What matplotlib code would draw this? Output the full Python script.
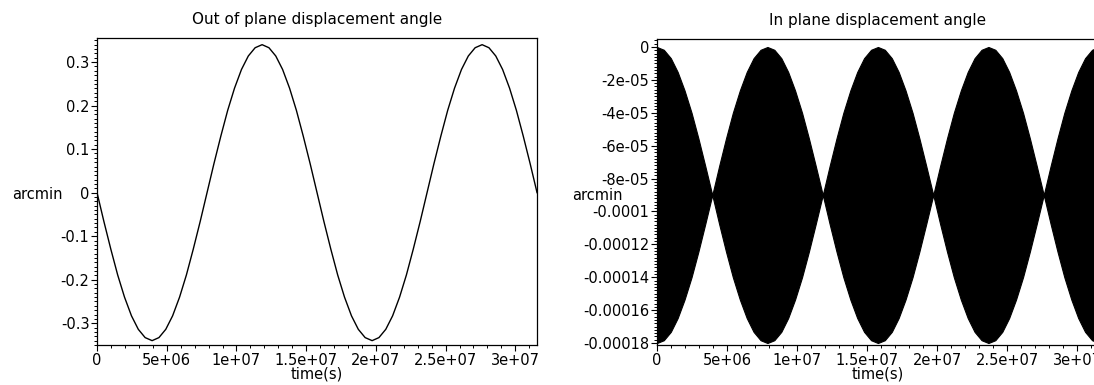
import matplotlib
matplotlib.use('Agg')
import matplotlib.pyplot as plt
from matplotlib.ticker import MultipleLocator, FuncFormatter

# sample times, in units of 1e6 s (one year = 3.156e7 s)
time_1e6s = [0, 0.49, 0.99, 1.48, 1.97, 2.47, 2.96, 3.45, 3.95, 4.44, 4.93, 5.42, 5.92,
             6.41, 6.90, 7.40, 7.89, 8.38, 8.88, 9.37, 9.86, 10.36, 10.85, 11.34, 11.84,
             12.33, 12.82, 13.31, 13.81, 14.30, 14.79, 15.29, 15.78, 16.27, 16.77, 17.26,
             17.75, 18.25, 18.74, 19.23, 19.73, 20.22, 20.71, 21.20, 21.70, 22.19, 22.68,
             23.18, 23.67, 24.16, 24.66, 25.15, 25.64, 26.14, 26.63, 27.12, 27.62, 28.11,
             28.60, 29.09, 29.59, 30.08, 30.57, 31.07, 31.56]

# out of plane angle (arcmin)
out_of_plane = [0, -0.066, -0.130, -0.189, -0.240, -0.283, -0.314, -0.333, -0.340,
                -0.333, -0.314, -0.283, -0.240, -0.189, -0.130, -0.066, 0,
                0.066, 0.130, 0.189, 0.240, 0.283, 0.314, 0.333, 0.340,
                0.333, 0.314, 0.283, 0.240, 0.189, 0.130, 0.066, 0,
                -0.066, -0.130, -0.189, -0.240, -0.283, -0.314, -0.333, -0.340,
                -0.333, -0.314, -0.283, -0.240, -0.189, -0.130, -0.066, 0,
                0.066, 0.130, 0.189, 0.240, 0.283, 0.314, 0.333, 0.340,
                0.333, 0.314, 0.283, 0.240, 0.189, 0.130, 0.066, 0]

# in plane angle: envelope of the fast oscillation, in units of 1e-5 arcmin
in_plane_upper = [0, -0.17, -0.68, -1.52, -2.64, -4.00, -5.56, -7.24, -9.00,
                  -7.24, -5.56, -4.00, -2.64, -1.52, -0.68, -0.17, 0,
                  -0.17, -0.68, -1.52, -2.64, -4.00, -5.56, -7.24, -9.00,
                  -7.24, -5.56, -4.00, -2.64, -1.52, -0.68, -0.17, 0,
                  -0.17, -0.68, -1.52, -2.64, -4.00, -5.56, -7.24, -9.00,
                  -7.24, -5.56, -4.00, -2.64, -1.52, -0.68, -0.17, 0,
                  -0.17, -0.68, -1.52, -2.64, -4.00, -5.56, -7.24, -9.00,
                  -7.24, -5.56, -4.00, -2.64, -1.52, -0.68, -0.17, 0]
in_plane_lower = [-18.00, -17.83, -17.32, -16.48, -15.36, -14.00, -12.44, -10.76, -9.00,
                  -10.76, -12.44, -14.00, -15.36, -16.48, -17.32, -17.83, -18.00,
                  -17.83, -17.32, -16.48, -15.36, -14.00, -12.44, -10.76, -9.00,
                  -10.76, -12.44, -14.00, -15.36, -16.48, -17.32, -17.83, -18.00,
                  -17.83, -17.32, -16.48, -15.36, -14.00, -12.44, -10.76, -9.00,
                  -10.76, -12.44, -14.00, -15.36, -16.48, -17.32, -17.83, -18.00,
                  -17.83, -17.32, -16.48, -15.36, -14.00, -12.44, -10.76, -9.00,
                  -10.76, -12.44, -14.00, -15.36, -16.48, -17.32, -17.83, -18.00]

t = [v * 1e6 for v in time_1e6s]
upper = [v * 1e-5 for v in in_plane_upper]
lower = [v * 1e-5 for v in in_plane_lower]

plt.rcParams['font.family'] = 'DejaVu Sans'
plt.rcParams['font.size'] = 10.5

fig = plt.figure(figsize=(10.94, 3.85), dpi=100)
ax1 = fig.add_axes([0.0887, 0.1039, 0.4022, 0.797])
ax2 = fig.add_axes([0.6005, 0.1039, 0.404, 0.795])

gfmt = FuncFormatter(lambda v, pos: '%g' % v)

ax1.plot(t, out_of_plane, color='black', lw=1.0)
ax1.set_xlim(0, 3.156e7)
ax1.set_ylim(-0.35, 0.355)
ax1.yaxis.set_major_locator(MultipleLocator(0.1))
ax1.yaxis.set_minor_locator(MultipleLocator(0.01))
ax1.set_title('Out of plane displacement angle', fontsize=11, pad=10)

ax2.fill_between(t, lower, upper, color='black', lw=0.8, edgecolor='black')
ax2.set_xlim(0, 3.156e7)
ax2.set_ylim(-1.812e-4, 4.9e-6)
ax2.yaxis.set_major_locator(MultipleLocator(2e-5))
ax2.yaxis.set_minor_locator(MultipleLocator(2e-6))
ax2.set_title('In plane displacement angle', fontsize=11, pad=10)

for ax in (ax1, ax2):
    ax.xaxis.set_major_locator(MultipleLocator(5e6))
    ax.xaxis.set_minor_locator(MultipleLocator(1e6))
    ax.xaxis.set_major_formatter(gfmt)
    ax.yaxis.set_major_formatter(gfmt)
    ax.tick_params(which='major', direction='out', length=4, width=0.8, pad=1.5)
    ax.tick_params(which='minor', direction='out', length=2, width=0.7)
    for s in ax.spines.values():
        s.set_linewidth(0.9)
    ax.set_xlabel('time(s)', labelpad=-1)
    ax.set_ylabel('arcmin', rotation=0, ha='left', va='center')
    ax.yaxis.set_label_coords(-0.193, 0.49)

fig.savefig('out.png', dpi=100)
